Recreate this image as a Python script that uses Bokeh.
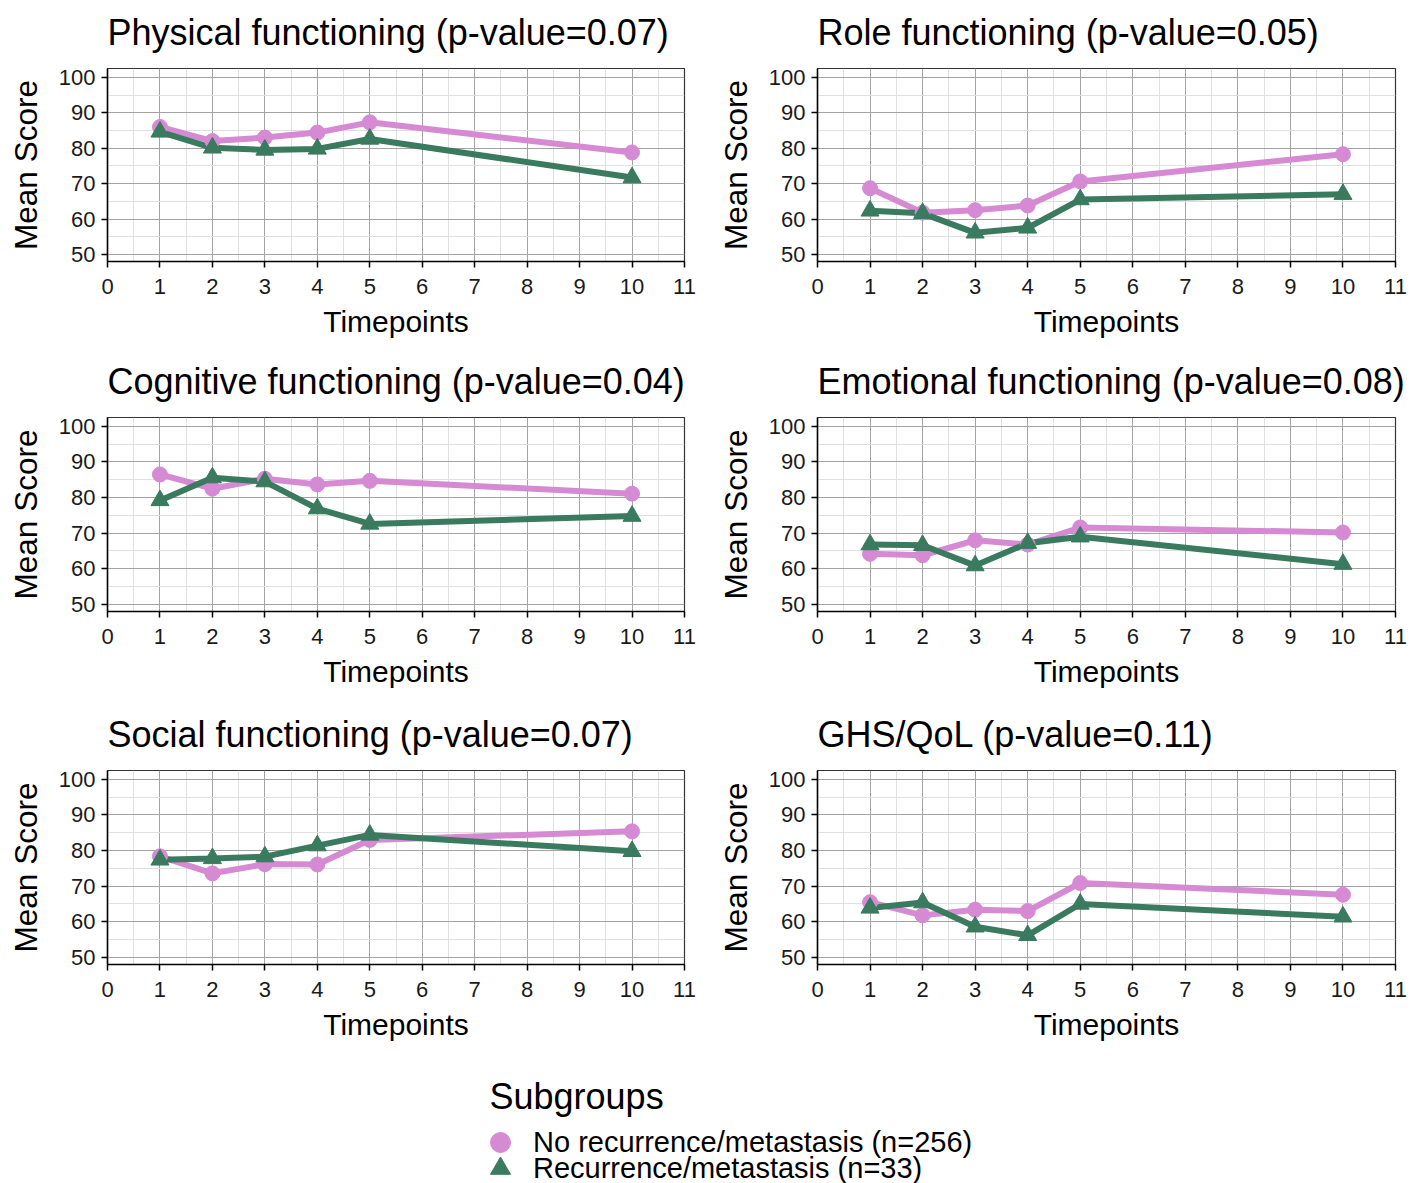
from bokeh.plotting import figure
from bokeh.layouts import column, row
from bokeh.models import Range1d, FixedTicker, Legend, LegendItem, Label
from bokeh.embed import file_html
from bokeh.resources import INLINE

FONT = "Liberation Sans"
PINK = "#D58AD3"
GREEN = "#3A7A5E"

timepoints = [1, 2, 3, 4, 5, 10]
x_ticks = list(range(0, 12))
y_ticks = [50, 60, 70, 80, 90, 100]

titles = [
    "Physical functioning (p-value=0.07)",
    "Role functioning (p-value=0.05)",
    "Cognitive functioning (p-value=0.04)",
    "Emotional functioning (p-value=0.08)",
    "Social functioning (p-value=0.07)",
    "GHS/QoL (p-value=0.11)",
]

physical_no = [86.0, 82.0, 83.0, 84.4, 87.3, 78.8]
physical_rec = [84.6, 80.1, 79.5, 79.8, 82.6, 71.7]
role_no = [68.7, 61.8, 62.5, 63.8, 70.6, 78.3]
role_rec = [62.3, 61.6, 56.1, 57.5, 65.5, 67.0]
cognitive_no = [86.5, 82.5, 85.3, 83.7, 84.7, 81.1]
cognitive_rec = [79.2, 85.6, 84.5, 76.9, 72.6, 74.8]
emotional_no = [64.2, 63.8, 68.0, 66.8, 71.6, 70.2]
emotional_rec = [66.8, 66.6, 60.9, 67.2, 69.0, 61.3]
social_no = [78.4, 73.6, 76.2, 76.1, 83.0, 85.4]
social_rec = [77.4, 77.8, 78.3, 81.4, 84.4, 79.8]
ghs_no = [65.5, 61.8, 63.4, 63.0, 70.9, 67.6]
ghs_rec = [63.9, 65.4, 58.6, 56.2, 65.0, 61.4]

group_labels = ["No recurrence/metastasis (n=256)", "Recurrence/metastasis (n=33)"]
legend_title = "Subgroups"

panel_data = [
    (physical_no, physical_rec),
    (role_no, role_rec),
    (cognitive_no, cognitive_rec),
    (emotional_no, emotional_rec),
    (social_no, social_rec),
    (ghs_no, ghs_rec),
]

STRIP_H = 66          # height of the title strip above each plot
TOP_PAD = 2           # gap between strip and frame
row_geom = [(349, 193), (353, 194), (362, 194)]   # (total row height, frame height)


def col_width(left_col):
    return 710 if left_col else 701


def make_title_strip(title, left_col):
    t = figure(width=col_width(left_col), height=STRIP_H, output_backend="svg", toolbar_location=None,
               x_range=Range1d(0, 1), y_range=Range1d(0, 1), min_border=0,
               x_axis_location=None, y_axis_location=None)
    t.grid.visible = False
    t.outline_line_color = None
    t.add_layout(Label(x=107, y=STRIP_H - 32, x_units="screen", y_units="screen", text=title,
                       text_font=FONT, text_font_size="36px", text_color="black",
                       text_align="left", text_baseline="middle"))
    return t


def make_panel(no_vals, rec_vals, left_col, height, frame_h):
    border_right = 26 if left_col else 16
    p = figure(width=col_width(left_col), height=height, x_range=Range1d(0, 11), y_range=Range1d(48, 102.5),
               output_backend="svg", toolbar_location=None,
               min_border_left=107, min_border_right=border_right,
               min_border_top=TOP_PAD, min_border_bottom=height - TOP_PAD - frame_h)
    p.background_fill_color = "white"
    p.border_fill_color = "white"
    p.outline_line_color = "#333333"
    p.outline_line_width = 1.2

    p.xaxis.ticker = FixedTicker(ticks=x_ticks, minor_ticks=[t + 0.5 for t in x_ticks[:-1]])
    p.yaxis.ticker = FixedTicker(ticks=y_ticks, minor_ticks=[t + 5 for t in y_ticks[:-1]])
    p.xaxis.axis_label = "Timepoints"
    p.yaxis.axis_label = "Mean Score"
    for ax in (p.xaxis[0], p.yaxis[0]):
        ax.axis_line_color = "black"
        ax.axis_line_width = 1.5
        ax.major_tick_line_color = "black"
        ax.major_tick_line_width = 1.5
        ax.major_tick_out = 6
        ax.major_tick_in = 0
        ax.minor_tick_line_color = None
        ax.major_label_text_font = FONT
        ax.major_label_text_font_size = "22px"
        ax.major_label_text_color = "#1a1a1a"
        ax.major_label_text_line_height = 1.0
        ax.axis_label_text_font = FONT
        ax.axis_label_text_font_style = "normal"
        ax.axis_label_text_color = "black"
        ax.axis_label_text_line_height = 1.0
    p.xaxis.axis_label_text_font_size = "30px"
    p.yaxis.axis_label_text_font_size = "31.5px"
    p.xaxis.major_label_standoff = 11
    p.yaxis.major_label_standoff = 6
    p.xaxis.axis_label_standoff = 8
    p.yaxis.axis_label_standoff = 12

    for g in (p.xgrid[0], p.ygrid[0]):
        g.grid_line_color = "#a3a3a3"
        g.grid_line_width = 1
        g.minor_grid_line_color = "#e0e0e0"
        g.minor_grid_line_width = 1

    p.line(timepoints, no_vals, line_color=PINK, line_width=6)
    p.line(timepoints, rec_vals, line_color=GREEN, line_width=6)
    p.scatter(timepoints, no_vals, marker="circle", size=15, fill_color=PINK, line_color=PINK)
    p.scatter(timepoints, rec_vals, marker="triangle", size=18, fill_color=GREEN, line_color=GREEN)
    return p


rows = []
for r in range(3):
    total_h, frame_h = row_geom[r]
    strips, plots = [], []
    for c in range(2):
        i = 2 * r + c
        left = c == 0
        strips.append(make_title_strip(titles[i], left))
        plots.append(make_panel(panel_data[i][0], panel_data[i][1], left, total_h - STRIP_H, frame_h))
    rows.append(row(*strips))
    rows.append(row(*plots))

LG_H = 1183 - sum(g[0] for g in row_geom)
lg = figure(width=1411, height=LG_H, output_backend="svg", toolbar_location=None,
            x_range=Range1d(0, 1), y_range=Range1d(0, 1), min_border=0,
            x_axis_location=None, y_axis_location=None)
lg.grid.visible = False
lg.outline_line_color = None
nan = float("nan")
r_no = lg.scatter(x=[nan], y=[nan], marker="circle", fill_color=PINK, line_color=PINK)
r_rec = lg.scatter(x=[nan], y=[nan], marker="triangle", fill_color=GREEN, line_color=GREEN)

# one legend per group so the two entries can sit as tightly as in the reference
for item_label, rend, loc in ((group_labels[0], r_no, (475, 16)), (group_labels[1], r_rec, (475, -10))):
    legend = Legend(items=[LegendItem(label=item_label, renderers=[rend])], location=loc)
    legend.label_text_font = FONT
    legend.label_text_font_size = "29px"
    legend.label_text_color = "black"
    legend.label_height = 26
    legend.glyph_height = 50
    legend.glyph_width = 50
    legend.label_standoff = 8
    legend.spacing = 0
    legend.padding = 0
    legend.margin = 0
    legend.border_line_color = None
    legend.background_fill_color = None
    legend.background_fill_alpha = 0
    lg.add_layout(legend)

lg.add_layout(Label(x=489, y=LG_H - 32, x_units="screen", y_units="screen", text=legend_title,
                    text_font=FONT, text_font_size="36px", text_baseline="middle",
                    text_align="left", text_color="black"))

layout = column(*rows, lg)

with open("out.html", "w") as f:
    f.write(file_html(layout, INLINE))
